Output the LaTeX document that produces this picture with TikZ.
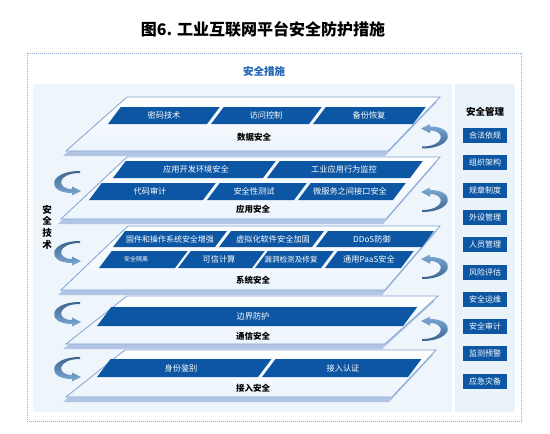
\documentclass[tikz,border=0pt]{standalone}
\usepackage{fontspec}
\setmainfont{Noto Sans CJK SC}
\definecolor{barblue}{RGB}{12,86,163}
\definecolor{titleblue}{RGB}{31,99,176}
\definecolor{areabg}{RGB}{238,245,251}
\definecolor{panelbg}{RGB}{234,242,250}
\definecolor{dashcol}{RGB}{150,176,208}
\definecolor{plateedge}{RGB}{128,164,212}
\definecolor{platebot}{RGB}{236,244,252}
\definecolor{plateshadow}{RGB}{178,197,228}
\definecolor{arrdark}{RGB}{60,100,142}
\definecolor{arrlight}{RGB}{125,170,214}
\newcommand\plate[6]{%
  \fill[plateshadow, shift={(-3,5)}] (#1,#3) -- (#2,#3) -- (#4,#6) -- (#5,#6) -- cycle;
  \shade[top color=white, bottom color=platebot, draw=plateedge, line width=0.8pt]
    (#1,#3) -- (#2,#3) -- (#4,#6) -- (#5,#6) -- cycle;}
\newcommand\pbar[4]{%
  \fill[barblue] (#1,#4) -- (#2,#4) -- ({#2+0.75*(#4-#3)},#3) -- ({#1+0.75*(#4-#3)},#3) -- cycle;}
\begin{document}
\begin{tikzpicture}[x=1pt,y=-1pt,
  lbl/.style={font=\bfseries\fontsize{8.5}{10}\selectfont, inner sep=0},
  bt/.style={font=\fontsize{8.2}{9.6}\selectfont, text=white, inner sep=0},
  mbox/.style={fill=barblue, minimum width=44pt, minimum height=15pt, inner sep=0,
    text=white, font=\fontsize{8}{9.6}\selectfont},
  larrow/.pic={\shade[top color=arrdark, bottom color=arrlight]
    (80,-11) .. controls (48,-11) and (46,11) .. (72,11) -- (72,13.5) -- (81,9)
    -- (72,4.5) -- (72,7) .. controls (56,7) and (57,-9) .. (80,-9) -- cycle;},
  rarrow/.pic={\shade[top color=arrlight, bottom color=arrdark]
    (422,11) .. controls (454,11) and (456,-11) .. (430,-11) -- (430,-13.5) -- (421,-9)
    -- (430,-4.5) -- (430,-7) .. controls (446,-7) and (445,9) .. (422,9) -- cycle;}]
\useasboundingbox (0,0) rectangle (550,434);
\fill[white] (0,0) rectangle (550,434);
% title
\node[font=\bfseries\fontsize{16}{19}\selectfont, inner sep=0] (title) at (263,29) {图6. 工业互联网平台安全防护措施};
% frame
\draw[dashcol, line width=0.6pt, dash pattern=on 1.2pt off 0.8pt] (27,53) rectangle (521,421);
\node[font=\bfseries\fontsize{10.5}{12}\selectfont, text=titleblue, inner sep=0] (measures) at (264,72) {安全措施};
\fill[areabg] (33,84) rectangle (452,412);
\fill[panelbg] (455,84) rectangle (515,412);
% plates (bottom to top)
\plate{125}{436}{350}{392}{66}{397}
\plate{127}{438}{296}{385}{66}{344}
\plate{128}{440}{226}{385}{61}{290}
\plate{127}{440}{157}{386}{61}{219}
\plate{127}{440}{97}{388}{66}{151}
% layer 1
\pbar{108}{207}{107}{124}
\pbar{211}{309}{107}{124}
\pbar{313}{413}{107}{124}
\node[bt] (d1) at (164,115.5) {密码技术};
\node[bt] (d2) at (266,115.5) {访问控制};
\node[bt] (d3) at (369,115.5) {备份恢复};
\node[lbl] (l1) at (254,137) {数据安全};
% layer 2
\pbar{113}{263}{161}{178}
\pbar{267}{410}{161}{178}
\pbar{89}{203}{183}{200}
\pbar{207}{294}{183}{200}
\pbar{298}{393}{183}{200}
\node[bt] (a1) at (196,169.5) {应用开发环境安全};
\node[bt] (a2) at (344,169.5) {工业应用行为监控};
\node[bt] (a3) at (150,191.5) {代码审计};
\node[bt] (a4) at (254,191.5) {安全性测试};
\node[bt] (a5) at (350,191.5) {微服务之间接口安全};
\node[lbl] (l2) at (253,209) {应用安全};
% layer 3
\pbar{113}{215}{231}{247}
\pbar{219}{312}{231}{247}
\pbar{316}{422}{231}{247}
\pbar{99}{175}{251}{268}
\pbar{178}{252}{251}{268}
\pbar{255}{321}{251}{268}
\pbar{325}{401}{251}{268}
\node[bt, font=\fontsize{8}{9.6}\selectfont] (s1) at (170,239.5) {固件和操作系统安全增强};
\node[bt] (s2) at (273,239.5) {虚拟化软件安全加固};
\node[bt] (s3) at (372,239.5) {DDoS防御};
\node[bt, font=\fontsize{6}{7}\selectfont] (s4) at (136,259.5) {安全隔离};
\node[bt] (s5) at (219,259.5) {可信计算};
\node[bt, font=\fontsize{7.6}{9}\selectfont] (s6) at (291,259.5) {漏洞检测及修复};
\node[bt] (s7) at (369,259.5) {通用PaaS安全};
\node[lbl] (l3) at (253,280) {系统安全};
% layer 4
\pbar{97}{403}{307}{326}
\node[bt] (c1) at (253,316.5) {边界防护};
\node[lbl] (l4) at (253,336) {通信安全};
% layer 5
\pbar{97}{258}{359}{377}
\pbar{262}{408}{359}{377}
\node[bt] (i1) at (181,368) {身份鉴别};
\node[bt] (i2) at (343,368) {接入认证};
\node[lbl] (l5) at (253,388) {接入安全};
% left side
\node[font=\bfseries\fontsize{9.5}{11.7}\selectfont, align=center, inner sep=0] (tech) at (47,227) {安\\全\\技\\术};
\pic at (0,182) {larrow};
\pic at (0,252) {larrow};
\pic at (0,313) {larrow};
\pic at (0,368) {larrow};
\pic at (0,137.5) {rarrow};
\pic at (0,201) {rarrow};
\pic at (0,268) {rarrow};
\pic at (0,330) {rarrow};
% right panel
\node[font=\bfseries\fontsize{9.5}{11}\selectfont, inner sep=0] (mgmt) at (485,112) {安全管理};
\node[mbox] (m1) at (485,135.5) {合法依规};
\node[mbox] (m2) at (485,162.8) {组织架构};
\node[mbox] (m3) at (485,190.1) {规章制度};
\node[mbox] (m4) at (485,217.4) {外设管理};
\node[mbox] (m5) at (485,244.7) {人员管理};
\node[mbox] (m6) at (485,272) {风险评估};
\node[mbox] (m7) at (485,299.3) {安全运维};
\node[mbox] (m8) at (485,326.6) {安全审计};
\node[mbox] (m9) at (485,353.9) {监测预警};
\node[mbox] (m10) at (485,381.2) {应急灾备};
\end{tikzpicture}
\end{document}
